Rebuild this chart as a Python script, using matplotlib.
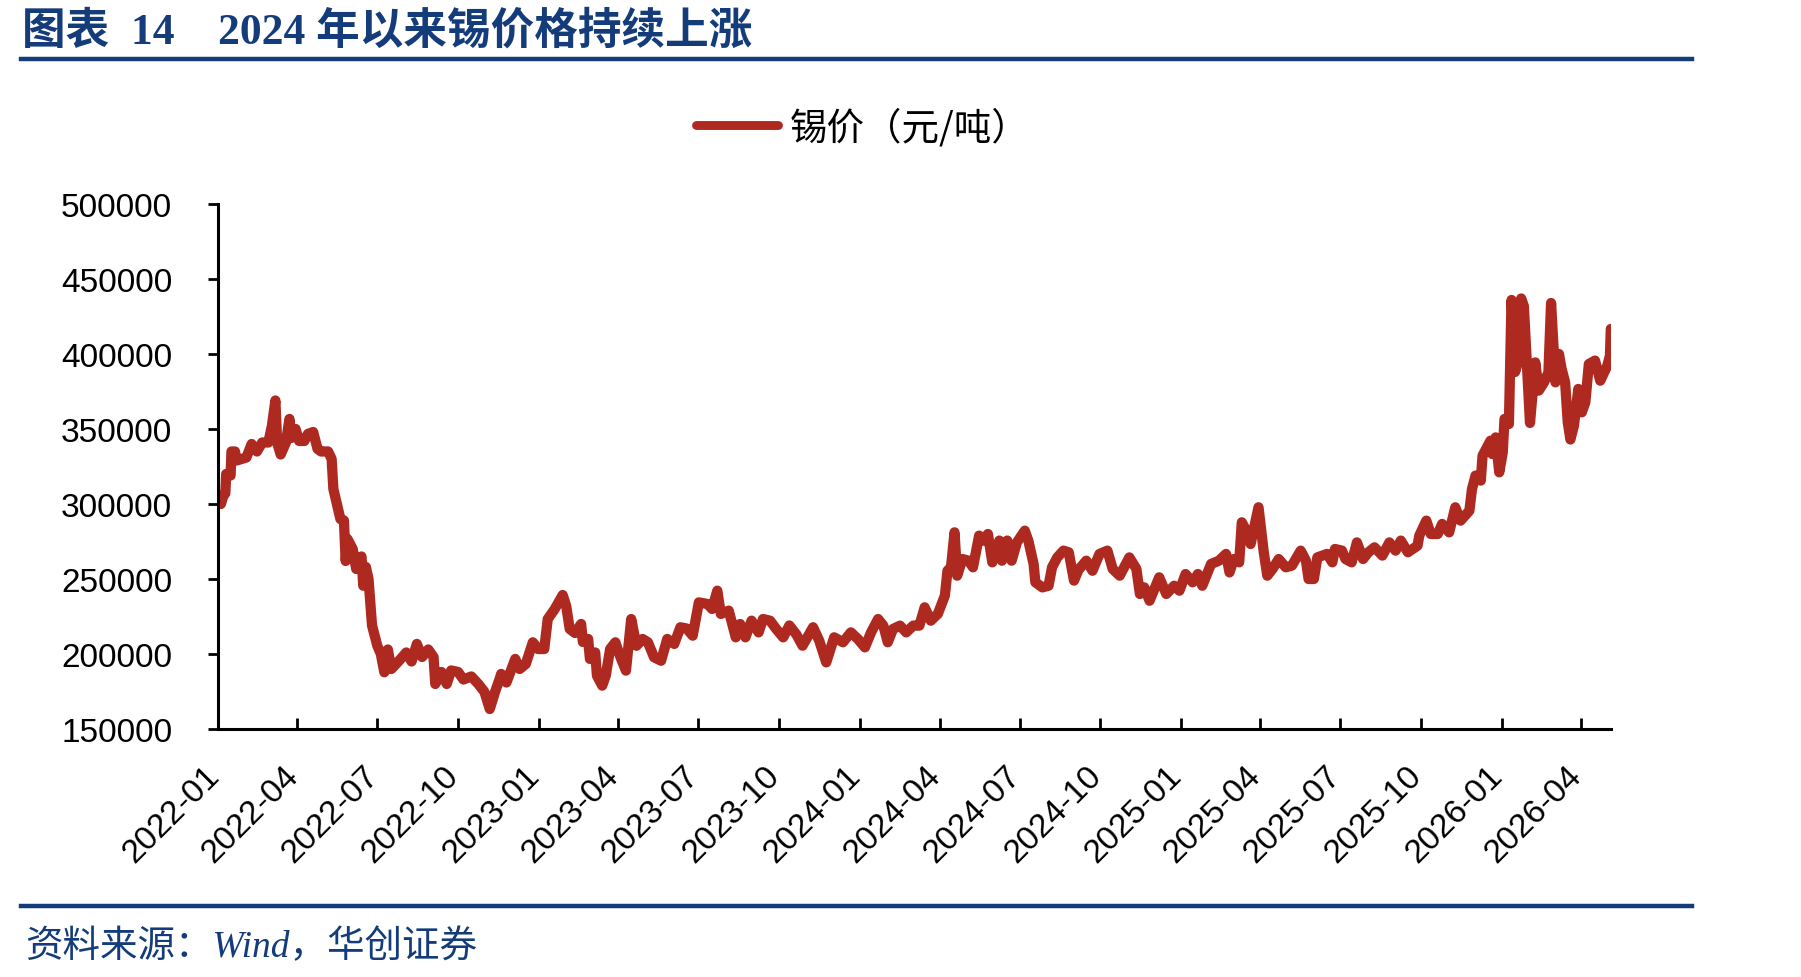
import pandas as pd
import numpy as np
import matplotlib
matplotlib.use('Agg')
import matplotlib.pyplot as plt
import matplotlib.dates as mdates
import matplotlib.transforms as mtransforms
from matplotlib.lines import Line2D

plt.rcParams['font.family'] = ['Liberation Sans', 'Noto Sans CJK SC']

# day offsets from 2022-01-01 and tin price (yuan/ton)
base_date = '2022-01-01'
day_offset = [
    3, 6, 8, 9, 14, 15, 19, 21, 32, 38, 44, 50, 57, 61, 65, 67, 71, 77, 81, 83,
    88, 92, 98, 102, 108, 113, 117, 125, 129, 131, 135, 139, 143, 145, 147, 153, 157, 160, 163, 165,
    168, 171, 175, 181, 185, 189, 193, 197, 205, 214, 220, 226, 232, 239, 245, 247, 254, 260, 265, 273,
    279, 288, 296, 303, 309, 315, 320, 322, 328, 338, 343, 350, 358, 364, 371, 375, 383, 392, 396, 400,
    406, 413, 415, 421, 423, 429, 431, 437, 441, 446, 452, 457, 464, 470, 476, 483, 489, 496, 504, 511,
    519, 526, 533, 540, 547, 557, 562, 568, 572, 581, 589, 594, 600, 607, 615, 620, 628, 635, 643, 650,
    658, 665, 677, 684, 692, 701, 711, 720, 728, 736, 743, 751, 757, 762, 768, 776, 783, 791, 798, 804,
    811, 819, 827, 830, 834, 838, 841, 847, 854, 859, 866, 871, 876, 881, 889, 892, 898, 903, 909, 918,
    922, 928, 930, 938, 945, 949, 955, 962, 968, 974, 979, 988, 995, 1003, 1012, 1018, 1026, 1037, 1045, 1049,
    1054, 1060, 1071, 1079, 1088, 1094, 1101, 1109, 1115, 1120, 1130, 1139, 1147, 1151, 1156, 1162, 1165, 1169, 1175, 1184,
    1190, 1194, 1200, 1207, 1215, 1222, 1232, 1238, 1241, 1247, 1251, 1262, 1268, 1271, 1279, 1283, 1290, 1296, 1303, 1309,
    1316, 1325, 1333, 1340, 1346, 1354, 1365, 1367, 1375, 1380, 1388, 1393, 1401, 1408, 1414, 1424, 1427, 1431, 1437, 1439,
    1445, 1448, 1450, 1454, 1458, 1462, 1464, 1469, 1472, 1476, 1478, 1483, 1486, 1491, 1493, 1499, 1503, 1509, 1514, 1517,
    1522, 1526, 1529, 1533, 1536, 1539, 1543, 1548, 1552, 1556, 1560, 1567, 1573, 1581, 1584, 1585,
]
tin_price = [
    300000, 306000, 307000, 320000, 319000, 335000, 335000, 329000, 331000, 340000, 335000, 341000, 341000, 352000, 369000, 341000, 333000, 341000, 356700, 344000,
    350000, 342000, 342000, 346700, 348000, 336700, 335000, 335000, 330000, 310000, 300000, 290000, 289000, 262000, 276700, 270000, 256700, 262000, 265000, 245500,
    258000, 250000, 219000, 205500, 200000, 187800, 203000, 190000, 195000, 201000, 195000, 206700, 198000, 203000, 198000, 180000, 188000, 180000, 189000, 188000,
    183000, 185000, 180000, 174700, 163300, 174700, 183000, 186700, 181000, 196700, 190000, 193300, 207800, 203300, 203300, 223300, 230000, 239300, 232000, 216700,
    214000, 220000, 208000, 210000, 196700, 201000, 185500, 178900, 185500, 203300, 207800, 199000, 188900, 223300, 205500, 210000, 207800, 197800, 195500, 210000,
    206700, 217800, 217000, 212200, 234400, 233300, 230000, 242200, 226700, 228900, 211100, 220000, 211100, 222200, 214400, 223300, 222200, 216700, 211100, 219000,
    213000, 205500, 217800, 208900, 194400, 211100, 207800, 214400, 210000, 204400, 214400, 223300, 218900, 207800, 216700, 218900, 214400, 218900, 218900, 231100,
    222200, 226700, 238900, 255500, 257800, 281100, 252200, 263300, 262200, 257800, 278900, 275600, 280000, 261100, 275600, 262200, 275600, 262200, 274400, 282200,
    275600, 260000, 247800, 244400, 245500, 257800, 264400, 268900, 267800, 248900, 256000, 262200, 255500, 266700, 268900, 256700, 252200, 264400, 256700, 240000,
    244400, 235500, 251100, 240000, 245500, 242200, 253300, 247800, 253300, 245500, 260000, 262200, 266700, 254400, 263300, 261100, 287800, 283300, 273300, 297800,
    267800, 252200, 256700, 263300, 257800, 258900, 268900, 262200, 250000, 250000, 264400, 266700, 261100, 270000, 268900, 263300, 261100, 274400, 263300, 267800,
    271100, 265600, 274400, 268900, 275600, 267800, 272200, 278900, 288900, 280000, 280000, 286700, 281100, 297800, 288900, 295500, 310000, 318900, 315600, 332200,
    338900, 342200, 333300, 344400, 321100, 334400, 356700, 353300, 436000, 388000, 392000, 437000, 432000, 376700, 354000, 394400, 375600, 381100, 387800, 434000,
    381100, 400000, 390000, 381100, 354400, 343000, 352200, 376700, 361100, 367800, 393300, 395600, 382200, 392200, 398900, 416700,
]
y_ticks = [150000, 200000, 250000, 300000, 350000, 400000, 450000, 500000]

title_text = '图表  14    2024 年以来锡价格持续上涨'
legend_label = '锡价（元/吨）'
source_text = '资料来源：Wind，华创证券'

blue = '#143C7A'
red = '#AE2A21'

dates = pd.to_datetime(base_date) + pd.to_timedelta(day_offset, unit='D')

fig = plt.figure(figsize=(9.005, 4.89), dpi=200)
ax = fig.add_axes([0.1212, 0.2536, 0.7732, 0.5368])

ax.plot(dates, tin_price, color=red, linewidth=3.7, solid_joinstyle='round', solid_capstyle='round')

ax.set_ylim(150000, 500000)
ax.set_yticks(y_ticks)
ax.set_yticklabels([str(v) for v in y_ticks])
ax.set_xlim(pd.to_datetime(base_date), dates[-1])
ax.xaxis.set_major_locator(mdates.MonthLocator(bymonth=[1, 4, 7, 10]))
ax.xaxis.set_major_formatter(mdates.DateFormatter('%Y-%m'))

for s in ['top', 'right']:
    ax.spines[s].set_visible(False)
for s in ['left', 'bottom']:
    ax.spines[s].set_linewidth(1.1)
    ax.spines[s].set_color('black')

ax.tick_params(axis='y', direction='out', length=3.6, width=1.0, pad=13, labelsize=12)
ax.tick_params(axis='x', direction='in', length=4, width=1.0, pad=9, labelsize=12)
shift = mtransforms.ScaledTranslation(-0.075, -0.03, fig.dpi_scale_trans)
for lbl in ax.get_xticklabels():
    lbl.set_rotation(45)
    lbl.set_ha('right')
    lbl.set_va('top')
    lbl.set_rotation_mode('anchor')
    lbl.set_transform(lbl.get_transform() + shift)

handle = Line2D([], [], color=red, linewidth=3.2, solid_capstyle='round')
fig.legend([handle], [legend_label], loc='center', bbox_to_anchor=(0.479, 0.868),
           frameon=False, handlelength=2.2, handletextpad=0.3,
           prop={'family': ['Noto Sans CJK SC'], 'size': 13.5})

# header / footer
fig.text(0.012, 0.968, title_text, color=blue, fontsize=15.7, fontweight='bold',
         family=['Liberation Serif', 'Noto Sans CJK SC'], va='center', ha='left')
fig.add_artist(Line2D([0.0115, 0.9395], [0.9387, 0.9387], color=blue, linewidth=1.6))
fig.add_artist(Line2D([0.0115, 0.9395], [0.0722, 0.0722], color=blue, linewidth=1.6))
fig.text(0.014, 0.031, source_text, color=blue, fontsize=13.5, style='italic',
         family=['Liberation Serif', 'Noto Sans CJK SC'], va='center', ha='left')

fig.savefig('out.png', dpi=200)
